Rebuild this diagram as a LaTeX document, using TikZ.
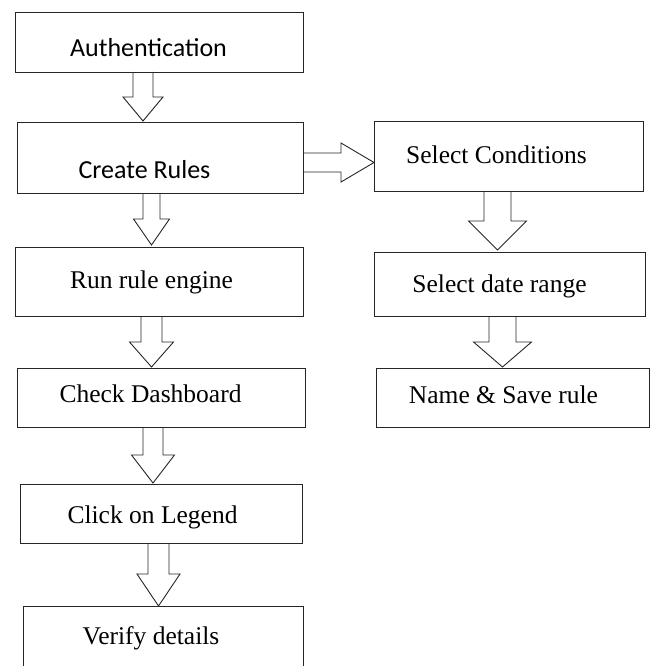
\documentclass[tikz,border=0pt]{standalone}
\usepackage{fontspec}
\newfontfamily\calib{Carlito}
\newfontfamily\tms{Liberation Serif}
\newcommand\blkdown[6]{% #1 x centre, #2 top, #3 neck, #4 tip, #5 shaft half width, #6 head half width
  \draw[barrow] (#1-#5,#2) -- (#1-#5,#3) -- (#1-#6,#3) -- (#1,#4) -- (#1+#6,#3) -- (#1+#5,#3) -- (#1+#5,#2);}
\begin{document}
\begin{tikzpicture}[x=1pt,y=-1pt,
  box/.style={draw=black!85, line width=1.1pt, inner sep=0pt, anchor=north west},
  barrow/.style={draw=black!85, line width=0.9pt, line join=miter},
  ctext/.style={anchor=base, inner sep=0pt, font=\calib\fontsize{26}{30}\selectfont},
  ttext/.style={anchor=base, inner sep=0pt, font=\tms\fontsize{25.5}{30}\selectfont}]
\useasboundingbox (0,0) rectangle (652,666);
\clip (0,0) rectangle (652,666);
% boxes
\node[box, minimum width=288pt, minimum height=60pt] (auth) at (15,12) {};
\node[box, minimum width=286pt, minimum height=71pt] (create) at (17,122) {};
\node[box, minimum width=288pt, minimum height=69pt] (run) at (15,247) {};
\node[box, minimum width=288pt, minimum height=59pt] (check) at (17,368) {};
\node[box, minimum width=282pt, minimum height=59pt] (click) at (20,484) {};
\node[box, minimum width=280pt, minimum height=80pt] (verify) at (23,606) {};
\node[box, minimum width=269pt, minimum height=70pt] (cond) at (374,121) {};
\node[box, minimum width=271pt, minimum height=64pt] (date) at (374,252) {};
\node[box, minimum width=273pt, minimum height=59pt] (name) at (376,368) {};
% texts
\node[ctext] (authT) at (148.5,57) {Authentication};
\node[ctext] (createT) at (144.5,178) {Create Rules};
\node[ttext] (runT) at (151.5,288) {Run rule engine};
\node[ttext] (checkT) at (150.5,402) {Check Dashboard};
\node[ttext] (clickT) at (152.5,523) {Click on Legend};
\node[ttext] (verifyT) at (151,644) {Verify details};
\node[ttext] (condT) at (496.5,163) {Select Conditions};
\node[ttext] (dateT) at (499.5,292) {Select date range};
\node[ttext] (nameT) at (503.5,403) {Name \& Save rule};
% block arrows
\blkdown{143}{72}{97}{121}{10}{20}
\blkdown{151.5}{193}{219}{245}{8.5}{18}
\blkdown{151.5}{316}{342}{367}{10.5}{22}
\blkdown{153}{427}{455}{483}{10}{21.5}
\blkdown{158.5}{543}{574}{606}{10.5}{21.5}
\blkdown{497.5}{191}{221}{250}{13.5}{29}
\blkdown{502.5}{316}{342}{367}{13.5}{29}
\draw[barrow] (303,153) -- (341,153) -- (341,143) -- (374,162.5) -- (341,182) -- (341,172) -- (303,172);
\end{tikzpicture}
\end{document}
